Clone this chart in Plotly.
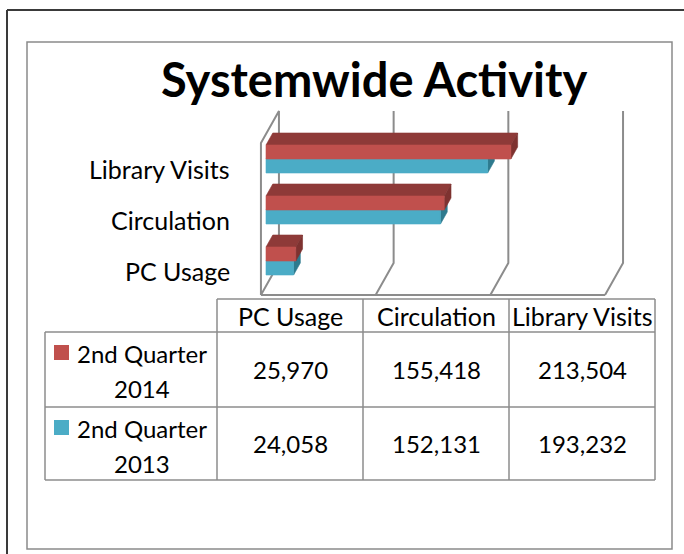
import plotly.graph_objects as go

# ---------------- data ----------------
categories = ["PC Usage", "Circulation", "Library Visits"]
series_names = ["2nd Quarter 2014", "2nd Quarter 2013"]
values_2014 = [25970, 155418, 213504]
values_2013 = [24058, 152131, 193232]
axis_ticks = [0, 100000, 200000, 300000]
title_text = "Systemwide Activity"

# ---------------- geometry / style ----------------
W, H = 684, 554
PX_PER_VAL = 0.001147      # pixels per unit value on the bar front plane
PX_PER_CAT = 51            # pixels per category step
X0_PX = 266                # pixel x of value 0 (bar front plane)
Y0_PX = 261                # pixel y of first category centre
DEPTH_SLOPE = 0.5625       # x pixels per depth pixel
FLOOR_D, BACK_D, BAR_D = -9, 23, 12
BAR_H = 14 / PX_PER_CAT
H_FLOOR, H_TOP = -0.49, 2.49
FONT = "Lato"
GRID = "#8C8C8C"
RED = dict(front="#C0504D", top="#8E3A38", side="#7E3230")
BLUE = dict(front="#4BACC6", top="#3A8CA3", side="#2E7A8E")


def proj(v, h, d):
    return v + d * DEPTH_SLOPE / PX_PER_VAL, h + d / PX_PER_CAT


def px(x):
    return x / W


def py(y):
    return 1 - y / H


fig = go.Figure()


def poly(points, color):
    xs, ys = zip(*[proj(*p) for p in points])
    fig.add_trace(go.Scatter(x=list(xs) + [xs[0]], y=list(ys) + [ys[0]], mode="lines",
                             fill="toself", fillcolor=color,
                             line=dict(color=color, width=0.6),
                             hoverinfo="skip", showlegend=False))


def line(points, width=2):
    xs, ys = zip(*[proj(*p) for p in points])
    fig.add_trace(go.Scatter(x=xs, y=ys, mode="lines",
                             line=dict(color=GRID, width=width),
                             hoverinfo="skip", showlegend=False))


# walls / gridlines
vmax = axis_ticks[-1]
line([(0, H_FLOOR, FLOOR_D), (vmax, H_FLOOR, FLOOR_D)])
line([(0, H_FLOOR, FLOOR_D), (0, H_TOP, FLOOR_D), (0, H_TOP, BACK_D), (0, H_FLOOR, BACK_D),
      (0, H_FLOOR, FLOOR_D)])
for t in axis_ticks[1:]:
    line([(t, H_FLOOR, FLOOR_D), (t, H_FLOOR, BACK_D), (t, H_TOP, BACK_D)])

# bars
for i in range(len(categories) - 1, -1, -1):
    for v, h0, h1, col in [(values_2013[i], i - BAR_H, i, BLUE),
                           (values_2014[i], i, i + BAR_H, RED)]:
        poly([(0, h1, 0), (v, h1, 0), (v, h1, BAR_D), (0, h1, BAR_D)], col["top"])
        poly([(v, h0, 0), (v, h0, BAR_D), (v, h1, BAR_D), (v, h1, 0)], col["side"])
        poly([(0, h0, 0), (v, h0, 0), (v, h1, 0), (0, h1, 0)], col["front"])

annotations = []
# category labels
for i, c in enumerate(categories):
    annotations.append(dict(x=px(232), xref="paper", y=proj(0, i, FLOOR_D - 1)[1], yref="y",
                            text=c, showarrow=False, xanchor="right", yanchor="middle",
                            font=dict(family=FONT, size=25, color="#000")))

# title
annotations.append(dict(x=px(374), y=py(79), xref="paper", yref="paper", text=f"<b>{title_text}</b>",
                        showarrow=False, xanchor="center", yanchor="middle",
                        font=dict(family=FONT, size=47, color="#000")))

shapes = []
# frames
shapes.append(dict(type="line", xref="paper", yref="paper", x0=px(7), x1=px(7), y0=py(10), y1=py(554),
                   line=dict(color="#3A3A3A", width=2)))
shapes.append(dict(type="line", xref="paper", yref="paper", x0=px(7), x1=px(684), y0=py(10), y1=py(10),
                   line=dict(color="#3A3A3A", width=2)))
shapes.append(dict(type="rect", xref="paper", yref="paper", x0=px(27), x1=px(672), y0=py(42), y1=py(549),
                   line=dict(color="#8A8A8A", width=1.5)))

# data table
col_edges = [217, 363, 509, 655]
row_edges = [299, 332, 407, 480]
tl = dict(color="#8C8C8C", width=1.5)
shapes.append(dict(type="line", xref="paper", yref="paper", x0=px(217), x1=px(655), y0=py(299), y1=py(299), line=tl))
for yy in row_edges[1:]:
    shapes.append(dict(type="line", xref="paper", yref="paper", x0=px(45), x1=px(655), y0=py(yy), y1=py(yy), line=tl))
shapes.append(dict(type="line", xref="paper", yref="paper", x0=px(45), x1=px(45), y0=py(332), y1=py(480), line=tl))
for xx in col_edges:
    shapes.append(dict(type="line", xref="paper", yref="paper", x0=px(xx), x1=px(xx), y0=py(299), y1=py(480), line=tl))

for j in range(len(categories)):
    cx = (col_edges[j] + col_edges[j + 1]) / 2
    annotations.append(dict(x=px(cx), y=py(316), xref="paper", yref="paper", text=categories[j],
                            showarrow=False, xanchor="center", yanchor="middle",
                            font=dict(family=FONT, size=25, color="#000")))
    for r, vals in enumerate([values_2014, values_2013]):
        cy = (row_edges[r + 1] + row_edges[r + 2]) / 2
        annotations.append(dict(x=px(cx), y=py(cy), xref="paper", yref="paper", text=f"{vals[j]:,}",
                                showarrow=False, xanchor="center", yanchor="middle",
                                font=dict(family=FONT, size=24, color="#000")))

key_cols = [RED["front"], BLUE["front"]]
for r, name in enumerate(series_names):
    top = row_edges[r + 1]
    l1, l2 = name.rsplit(" ", 1)
    shapes.append(dict(type="rect", xref="paper", yref="paper", x0=px(54), x1=px(69),
                       y0=py(top + 13), y1=py(top + 28), fillcolor=key_cols[r], line=dict(width=0)))
    annotations.append(dict(x=px(142), y=py(top + 21), xref="paper", yref="paper", text=l1,
                            showarrow=False, xanchor="center", yanchor="middle",
                            font=dict(family=FONT, size=24, color="#000")))
    annotations.append(dict(x=px(142), y=py(top + 56), xref="paper", yref="paper", text=l2,
                            showarrow=False, xanchor="center", yanchor="middle",
                            font=dict(family=FONT, size=24, color="#000")))

fig.update_layout(
    width=W, height=H, margin=dict(l=0, r=0, t=0, b=0),
    paper_bgcolor="white", plot_bgcolor="white", showlegend=False,
    xaxis=dict(range=[-X0_PX / PX_PER_VAL, (W - X0_PX) / PX_PER_VAL], domain=[0, 1], visible=False,
               fixedrange=True),
    yaxis=dict(range=[(Y0_PX - H) / PX_PER_CAT, Y0_PX / PX_PER_CAT], domain=[0, 1], visible=False,
               fixedrange=True),
    annotations=annotations, shapes=shapes,
)
fig.write_html("out.html", config={"displayModeBar": False},
               post_script="document.body.style.margin='0';document.body.style.overflow='hidden';")
